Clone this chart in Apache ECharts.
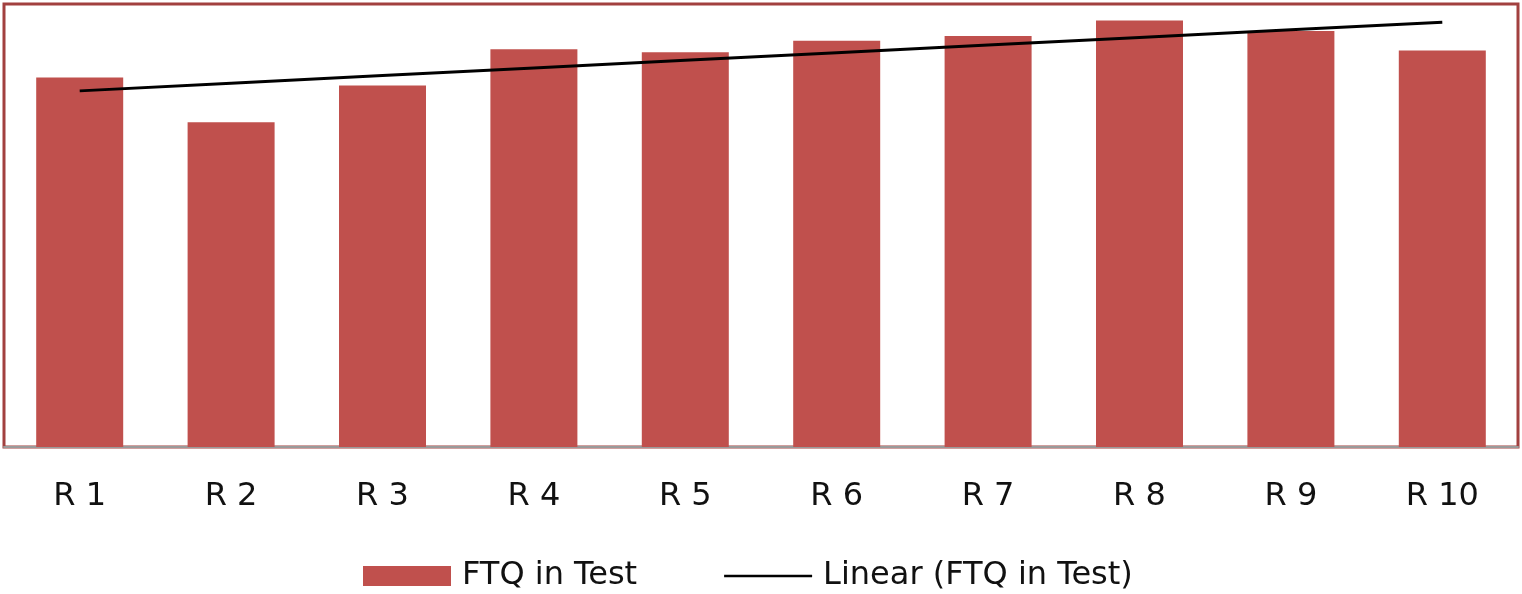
<!DOCTYPE html>
<html>
<head>
<meta charset="utf-8">
<title>FTQ in Test</title>
<script src="https://cdn.jsdelivr.net/npm/echarts@6/dist/echarts.min.js"></script>
<style>
  html, body { margin: 0; padding: 0; background: #ffffff; }
  #chart { width: 1522px; height: 594px; }
</style>
</head>
<body>
<div id="chart"></div>
<script>
// Release categories and first-time-quality values (%)
const categories = ['R 1', 'R 2', 'R 3', 'R 4', 'R 5', 'R 6', 'R 7', 'R 8', 'R 9', 'R 10'];
const ftqInTest = [83.4, 73.3, 81.6, 89.8, 89.1, 91.7, 92.8, 96.3, 93.9, 89.5];
const seriesNames = ['FTQ in Test', 'Linear (FTQ in Test)'];

// Least-squares linear trend of the FTQ values over the release index
function linearTrend(values) {
  const n = values.length;
  let sx = 0, sy = 0, sxy = 0, sxx = 0;
  values.forEach((y, i) => {
    const x = i + 1;
    sx += x; sy += y; sxy += x * y; sxx += x * x;
  });
  const slope = (n * sxy - sx * sy) / (n * sxx - sx * sx);
  const intercept = (sy - slope * sx) / n;
  return values.map((_, i) => +(intercept + slope * (i + 1)).toFixed(3));
}
const trend = linearTrend(ftqInTest);

const chart = echarts.init(document.getElementById('chart'), null, { renderer: 'canvas' });
chart.setOption({
  animation: false,
  backgroundColor: '#ffffff',
  grid: {
    left: 4, right: 4, top: 4, bottom: 147,
    show: true,
    borderColor: '#A2403F',
    borderWidth: 3,
    backgroundColor: 'transparent'
  },
  legend: {
    left: 363,
    top: 560,
    padding: 0,
    itemGap: 87,
    itemWidth: 88,
    itemHeight: 20,
    symbolKeepAspect: true,
    textStyle: { fontFamily: 'DejaVu Sans', fontSize: 32, color: '#111111', padding: [0, 0, 0, 6] },
    data: [
      { name: seriesNames[0], icon: 'rect' },
      { name: seriesNames[1], icon: 'path://M0,0H88V2.5H0Z' }
    ]
  },
  xAxis: {
    type: 'category',
    data: categories,
    axisLine: { show: true, lineStyle: { color: '#9a9a9a', width: 2 } },
    axisTick: { show: false },
    axisLabel: { fontFamily: 'DejaVu Sans', fontSize: 32, color: '#111111', margin: 34 },
    splitLine: { show: false }
  },
  yAxis: {
    type: 'value',
    min: 0,
    max: 100,
    show: false,
    splitLine: { show: false }
  },
  series: [
    {
      name: seriesNames[0],
      type: 'bar',
      data: ftqInTest,
      barWidth: 87,
      itemStyle: { color: '#C0504D' }
    },
    {
      name: seriesNames[1],
      type: 'line',
      data: trend,
      symbol: 'none',
      itemStyle: { color: '#000000' },
      lineStyle: { color: '#000000', width: 3 },
      z: 5
    }
  ]
});
</script>
</body>
</html>
